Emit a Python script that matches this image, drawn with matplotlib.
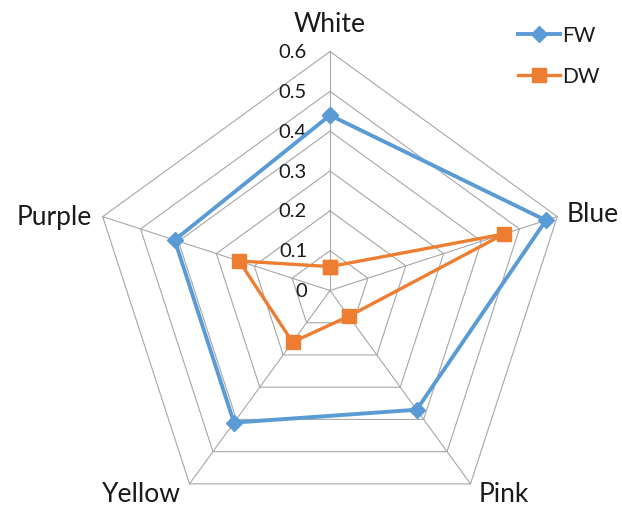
import numpy as np
import matplotlib
matplotlib.use("Agg")
import matplotlib.pyplot as plt
from matplotlib.lines import Line2D

plt.rcParams['font.family'] = ['Lato', 'DejaVu Sans']

# Chart data
categories = ["White", "Blue", "Pink", "Yellow", "Purple"]
fw_values = [0.44, 0.57, 0.37, 0.41, 0.41]
dw_values = [0.06, 0.46, 0.08, 0.16, 0.24]
tick_values = [0, 0.1, 0.2, 0.3, 0.4, 0.5, 0.6]
tick_labels = ["0", "0.1", "0.2", "0.3", "0.4", "0.5", "0.6"]

FW_COLOR = "#5B9BD5"
DW_COLOR = "#ED7D31"
GRID_COLOR = "#A6A6A6"
TEXT_COLOR = "#1a1a1a"

W, H = 622, 506
fig = plt.figure(figsize=(W / 100, H / 100), dpi=100)

cx, cy, R = 330, 291.5, 239
ax = fig.add_axes([(cx - R) / W, (H - cy - R) / H, 2 * R / W, 2 * R / H],
                  projection="polar")
ax.set_theta_offset(np.pi / 2)
ax.set_theta_direction(-1)
ax.set_ylim(0, tick_values[-1])
ax.grid(False)
ax.set_xticks([])
ax.set_yticks([])
ax.spines["polar"].set_visible(False)
ax.patch.set_alpha(0)

n = len(categories)
angles = np.arange(n) * 2 * np.pi / n
closed = np.append(angles, angles[0])

# Pentagon grid and spokes
for level in tick_values[1:]:
    ax.plot(closed, [level] * (n + 1), color=GRID_COLOR, lw=0.8, zorder=1,
            clip_on=False)
for a in angles:
    ax.plot([a, a], [0, tick_values[-1]], color=GRID_COLOR, lw=0.8, zorder=1,
            clip_on=False)

# Value axis labels along the first spoke
for v, lab in zip(tick_values, tick_labels):
    ax.annotate(lab, xy=(0, v), xytext=(-16.5, 0), textcoords="offset points",
                ha="right", va="center", fontsize=14.5, color=TEXT_COLOR,
                annotation_clip=False)

# Category labels at the outer vertices (offsets in points)
label_style = {
    "White": ((0, 15), "center", "baseline"),
    "Blue": ((6.5, -3), "left", "baseline"),
    "Pink": ((6, -12.7), "left", "baseline"),
    "Yellow": ((-6.5, -12.7), "right", "baseline"),
    "Purple": ((-8, -5), "right", "baseline"),
}
for a, cat in zip(angles, categories):
    off, ha, va = label_style[cat]
    ax.annotate(cat, xy=(a, tick_values[-1]), xytext=off,
                textcoords="offset points", ha=ha, va=va, fontsize=19,
                color=TEXT_COLOR, annotation_clip=False)

# Series
fw_closed = fw_values + fw_values[:1]
dw_closed = dw_values + dw_values[:1]
ax.plot(closed, fw_closed, color=FW_COLOR, lw=2.8, marker="D", ms=8,
        mfc=FW_COLOR, mec=FW_COLOR, zorder=3, clip_on=False, label="FW")
ax.plot(closed, dw_closed, color=DW_COLOR, lw=2.4, marker="s", ms=10.5,
        mfc=DW_COLOR, mec=DW_COLOR, zorder=4, clip_on=False, label="DW")

handles = [
    Line2D([], [], color=FW_COLOR, lw=2.8, marker="D", ms=8, mfc=FW_COLOR,
           mec=FW_COLOR),
    Line2D([], [], color=DW_COLOR, lw=2.4, marker="s", ms=10.5, mfc=DW_COLOR,
           mec=DW_COLOR),
]
leg = fig.legend(handles, ["FW", "DW"], loc="upper left",
                 bbox_to_anchor=(518 / W, 1 - 26 / H), frameon=False,
                 fontsize=15, handlelength=2.0, handletextpad=0.1,
                 labelspacing=1.0, borderaxespad=0, borderpad=0)
for t in leg.get_texts():
    t.set_color(TEXT_COLOR)

fig.savefig("out.png", dpi=100, facecolor="white")
